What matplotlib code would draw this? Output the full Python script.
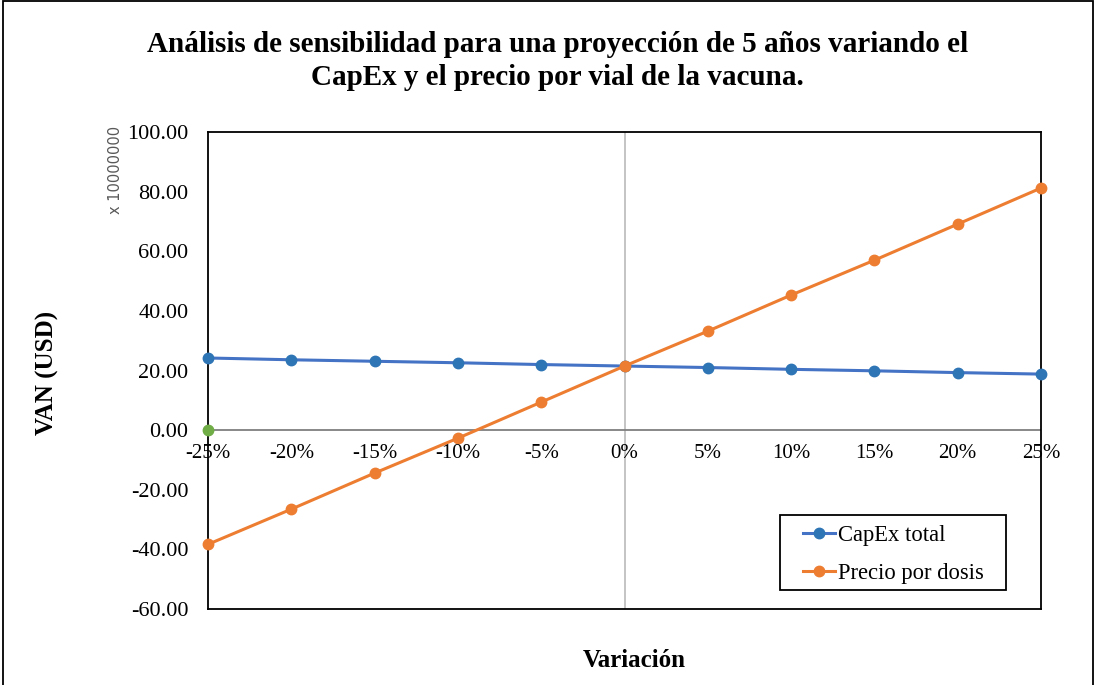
import matplotlib.pyplot as plt
import matplotlib.patches as patches
import numpy as np

plt.rcParams['font.family'] = ['Liberation Serif', 'DejaVu Serif']

# ======================
# DATA
# ======================

variacion = ['-25%', '-20%', '-15%', '-10%', '-5%', '0%',
             '5%', '10%', '15%', '20%', '25%']

capex_total = [24.2, 23.6, 23.1, 22.6, 22.0, 21.5,
               21.0, 20.4, 19.9, 19.3, 18.8]

precio_dosis = [-38.3, -26.5, -14.4, -2.7, 9.4, 21.5,
                33.2, 45.3, 57.0, 69.1, 81.2]

extra_serie = [0.0]

y_ticks = [100, 80, 60, 40, 20, 0, -20, -40, -60]

# ======================
# FIGURE
# ======================

fig = plt.figure(
    figsize=(10.96, 6.85),
    dpi=100
)

ax = fig.add_axes([0.1898, 0.1109, 0.76, 0.6964])

x = np.arange(len(variacion))

ax.axvline(5, color='#bfbfbf', lw=1.3, zorder=1)
ax.axhline(0, color='#7f7f7f', lw=1.3, zorder=1)

ax.plot(
    x,
    capex_total,
    color='#4472C4',
    lw=2.2,
    marker='o',
    markersize=7.5,
    markerfacecolor='#2E75B6',
    markeredgecolor='#2E75B6',
    label='CapEx total',
    zorder=3,
    clip_on=False
)

ax.plot(
    x,
    precio_dosis,
    color='#ED7D31',
    lw=2.2,
    marker='o',
    markersize=7.5,
    label='Precio por dosis',
    zorder=3,
    clip_on=False
)

ax.plot(
    x[:1],
    extra_serie,
    color='#70AD47',
    lw=0,
    marker='o',
    markersize=7.5,
    zorder=4,
    clip_on=False
)

ax.set_xlim(0, 10)
ax.set_ylim(-60, 100)

ax.set_yticks(y_ticks)
ax.set_yticklabels(['%.2f' % v for v in y_ticks], fontsize=16)
ax.tick_params(axis='y', length=0, pad=14)

# x labels sit under the zero line
ax.set_xticks([])
for xi, lab in zip(x, variacion):
    ax.text(xi, -4.5, lab, ha='center', va='top', fontsize=15,
            clip_on=False)

for s in ax.spines.values():
    s.set_color('black')
    s.set_linewidth(1.3)

ax.set_ylabel('VAN (USD)', fontsize=18, fontweight='bold')
ax.yaxis.set_label_coords(-0.179, 0.495)

fig.text(0.105, 0.752, 'x 10000000', rotation=90, fontsize=10.5,
         color='#595959', ha='center', va='center',
         family=['DejaVu Sans'])

fig.text(0.579, 0.036, 'Variación', fontsize=18, fontweight='bold',
         ha='center', va='center')

fig.text(0.509, 0.911,
         'Análisis de sensibilidad para una proyección de 5 años variando el\n'
         'CapEx y el precio por vial de la vacuna.',
         fontsize=21, fontweight='bold', ha='center', va='center',
         linespacing=1.32)

# legend box drawn separately to get wider side padding
ax.add_patch(patches.Rectangle(
    (0.6867, 0.0398), 0.2713, 0.157,
    transform=ax.transAxes,
    fill=True, facecolor='white', edgecolor='black', lw=1.3,
    zorder=5
))

leg = ax.legend(
    loc='center left',
    bbox_to_anchor=(0.7137, 0.1143),
    fontsize=16.3,
    frameon=False,
    handlelength=1.45,
    handletextpad=0.1,
    borderpad=0,
    borderaxespad=0,
    labelspacing=0.72
)
leg.set_zorder(6)

fig.patches.append(patches.Rectangle(
    (0.003, -0.01), 0.994, 1.008,
    transform=fig.transFigure,
    fill=False, edgecolor='black', lw=1.3
))

plt.savefig(
    'out.png',
    dpi=100
)

plt.close()
